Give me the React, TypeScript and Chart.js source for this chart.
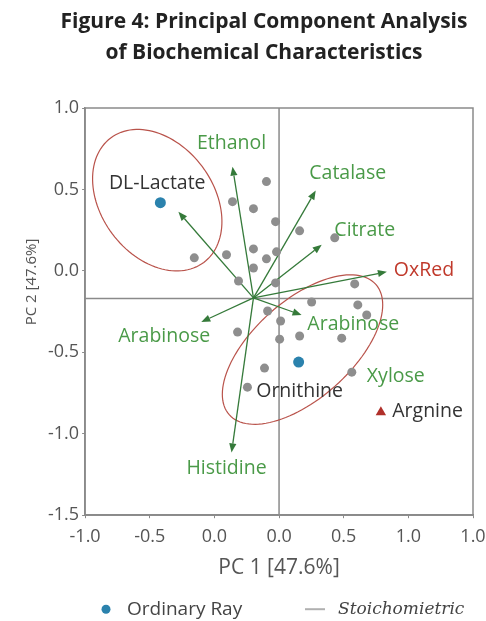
import React, { useEffect, useRef } from 'react';
import { Chart, registerables } from 'chart.js';

Chart.register(...registerables);

// ---------- text ----------
const TITLE_LINES = ['Figure 4: Principal Component Analysis', 'of Biochemical Characteristics'];
const X_TITLE = 'PC 1 [47.6%]';
const Y_TITLE = 'PC 2 [47.6%]';
const LEGEND_POINT_LABEL = 'Ordinary Ray';
const LEGEND_LINE_LABEL = 'Stoichomietric';

// ---------- ticks ----------
const X_TICK_VALUES = [-1, -0.6667, -0.3333, 0, 0.3333, 0.6667, 1];
const X_TICK_LABELS = ['-1.0', '-0.5', '0.0', '0.0', '0.5', '1.0', '1.0'];
const Y_TICK_VALUES = [-1.5, -1.0, -0.5, 0.0, 0.5, 1.0];

// ---------- data ----------
const GREY_X = [-0.065, -0.240, -0.132, -0.018, 0.106, 0.287, -0.437, -0.271, -0.132, -0.065, -0.013, -0.132, -0.209, -0.018, 0.390, 0.168, 0.406, 0.452, -0.059, 0.008, 0.106, 0.323, 0.003, -0.214, -0.075, -0.163, 0.375];
const GREY_Y = [0.548, 0.425, 0.382, 0.302, 0.246, 0.203, 0.080, 0.099, 0.135, 0.074, 0.117, 0.018, -0.062, -0.074, -0.080, -0.191, -0.209, -0.271, -0.246, -0.308, -0.400, -0.413, -0.419, -0.376, -0.597, -0.714, -0.622];

const BLUE_X = [-0.612, 0.101];
const BLUE_Y = [0.419, -0.560];

const TRI_X = [0.525];
const TRI_Y = [-0.868];

// loading vectors
const ARROW_ORIGIN = { x: -0.132, y: -0.166 };
const ARROW_X = [-0.240, -0.519, 0.189, 0.220, 0.556, -0.401, 0.116, -0.245];
const ARROW_Y = [0.640, 0.363, 0.493, 0.160, -0.006, -0.314, -0.271, -1.115];

// annotation labels
const LABEL_TEXTS = ['Ethanol', 'DL-Lactate', 'Catalase', 'Citrate', 'OxRed', 'Arabinose', 'Arabinose', 'Xylose', 'Ornithine', 'Histidine', 'Argnine'];
const LABEL_X = [-0.245, -0.628, 0.354, 0.442, 0.747, -0.592, 0.383, 0.602, 0.106, -0.271, 0.766];
const LABEL_Y = [0.782, 0.536, 0.597, 0.246, 0.000, -0.400, -0.326, -0.647, -0.739, -1.213, -0.862];
const LABEL_KIND = ['var', 'sample', 'var', 'var', 'red', 'var', 'var', 'var', 'sample', 'var', 'sample'];

// reference cross lines
const REF_X = 0;
const REF_Y = -0.17;

// confidence ellipses: centre + two conjugate semi-axis vectors (data units)
const ELLIPSE_CX = [-0.628, 0.121];
const ELLIPSE_CY = [0.434, -0.483];
const ELLIPSE_UX = [0.240, 0.378];
const ELLIPSE_UY = [-0.382, 0.400];
const ELLIPSE_VX = [-0.2315, 0.1675];
const ELLIPSE_VY = [-0.207, -0.2248];

// ---------- styles ----------
const SANS = "'Open Sans', 'Noto Sans', sans-serif";
const AXIS_GREY = '#8a8a8a';
const TEXT_GREY = '#555555';
const GREEN_TEXT = '#4a9a48';
const GREEN_ARROW = '#357a3a';
const RED_TEXT = '#c0392b';
const ELLIPSE_COLOR = '#b9534b';
const BLUE = '#2b82ad';
const GREY_POINT = '#8e8e8e';
const TRI_COLOR = '#b0302a';

const decorPlugin = {
  id: 'pcaDecor',
  beforeDatasetsDraw(chart: any) {
    const { ctx, chartArea, scales } = chart;
    const xs = scales.x;
    const ys = scales.y;
    const px = (v: number) => xs.getPixelForValue(v);
    const py = (v: number) => ys.getPixelForValue(v);
    ctx.save();

    // plot frame
    ctx.strokeStyle = AXIS_GREY;
    ctx.lineWidth = 1.5;
    ctx.strokeRect(chartArea.left, chartArea.top, chartArea.right - chartArea.left, chartArea.bottom - chartArea.top);

    // reference lines
    ctx.beginPath();
    ctx.moveTo(px(REF_X), chartArea.top);
    ctx.lineTo(px(REF_X), chartArea.bottom);
    ctx.moveTo(chartArea.left, py(REF_Y));
    ctx.lineTo(chartArea.right, py(REF_Y));
    ctx.stroke();

    // ellipses
    ctx.strokeStyle = ELLIPSE_COLOR;
    ctx.lineWidth = 1.2;
    for (let e = 0; e < ELLIPSE_CX.length; e++) {
      ctx.beginPath();
      const steps = 120;
      for (let i = 0; i <= steps; i++) {
        const t = (i / steps) * Math.PI * 2;
        const c = Math.cos(t);
        const s = Math.sin(t);
        const X = px(ELLIPSE_CX[e] + ELLIPSE_UX[e] * c + ELLIPSE_VX[e] * s);
        const Y = py(ELLIPSE_CY[e] + ELLIPSE_UY[e] * c + ELLIPSE_VY[e] * s);
        if (i === 0) ctx.moveTo(X, Y);
        else ctx.lineTo(X, Y);
      }
      ctx.closePath();
      ctx.stroke();
    }

    // arrows
    const ox = px(ARROW_ORIGIN.x);
    const oy = py(ARROW_ORIGIN.y);
    ctx.strokeStyle = GREEN_ARROW;
    ctx.fillStyle = GREEN_ARROW;
    ctx.lineWidth = 1.3;
    for (let i = 0; i < ARROW_X.length; i++) {
      const tx = px(ARROW_X[i]);
      const ty = py(ARROW_Y[i]);
      const ang = Math.atan2(ty - oy, tx - ox);
      const head = 9;
      const half = 3.6;
      const bx = tx - head * Math.cos(ang);
      const by = ty - head * Math.sin(ang);
      ctx.beginPath();
      ctx.moveTo(ox, oy);
      ctx.lineTo(bx, by);
      ctx.stroke();
      ctx.beginPath();
      ctx.moveTo(tx, ty);
      ctx.lineTo(bx + half * Math.sin(ang), by - half * Math.cos(ang));
      ctx.lineTo(bx - half * Math.sin(ang), by + half * Math.cos(ang));
      ctx.closePath();
      ctx.fill();
    }

    // labels
    ctx.font = `19.5px ${SANS}`;
    ctx.textAlign = 'center';
    ctx.textBaseline = 'middle';
    for (let i = 0; i < LABEL_TEXTS.length; i++) {
      const kind = LABEL_KIND[i];
      ctx.fillStyle = kind === 'var' ? GREEN_TEXT : kind === 'red' ? RED_TEXT : '#333333';
      ctx.fillText(LABEL_TEXTS[i], px(LABEL_X[i]), py(LABEL_Y[i]));
    }
    ctx.restore();
  },
  afterDraw(chart: any) {
    const { ctx, width, chartArea } = chart;
    ctx.save();
    // title
    ctx.fillStyle = '#222222';
    ctx.font = "bold 21px 'Open Sans', 'Noto Sans', sans-serif";
    ctx.textAlign = 'center';
    ctx.textBaseline = 'middle';
    const tx = width / 2 + 21;
    ctx.fillText(TITLE_LINES[0], tx, 22);
    ctx.fillText(TITLE_LINES[1], tx, 53);

    // y-axis title
    ctx.save();
    ctx.translate(32, 282);
    ctx.rotate(-Math.PI / 2);
    ctx.fillStyle = TEXT_GREY;
    ctx.font = `15px ${SANS}`;
    ctx.fillText(Y_TITLE, 0, 0);
    ctx.restore();

    // legend
    const ly = chartArea.bottom + 94;
    ctx.fillStyle = BLUE;
    ctx.beginPath();
    ctx.arc(106, ly, 4.5, 0, Math.PI * 2);
    ctx.fill();
    ctx.fillStyle = '#444444';
    ctx.font = `19px ${SANS}`;
    ctx.textAlign = 'left';
    ctx.fillText(LEGEND_POINT_LABEL, 127, ly);
    ctx.strokeStyle = '#b0b0b0';
    ctx.lineWidth = 2;
    ctx.beginPath();
    ctx.moveTo(305, ly);
    ctx.lineTo(325, ly);
    ctx.stroke();
    ctx.font = "italic 17px 'DejaVu Serif', 'Liberation Serif', serif";
    ctx.fillText(LEGEND_LINE_LABEL, 338, ly);
    ctx.restore();
  },
};

export default function App() {
  const canvasRef = useRef<HTMLCanvasElement | null>(null);

  useEffect(() => {
    if (!canvasRef.current) return;
    const chart = new Chart(canvasRef.current, {
      type: 'scatter',
      data: {
        datasets: [
          {
            label: 'Samples',
            data: GREY_X.map((x, i) => ({ x, y: GREY_Y[i] })),
            backgroundColor: GREY_POINT,
            borderWidth: 0,
            pointRadius: 4.5,
          },
          {
            label: LEGEND_POINT_LABEL,
            data: BLUE_X.map((x, i) => ({ x, y: BLUE_Y[i] })),
            backgroundColor: BLUE,
            borderWidth: 0,
            pointRadius: 5.5,
          },
          {
            label: 'Argnine',
            data: TRI_X.map((x, i) => ({ x, y: TRI_Y[i] })),
            backgroundColor: TRI_COLOR,
            borderWidth: 0,
            pointStyle: 'triangle',
            pointRadius: 6,
          },
        ],
      },
      options: {
        animation: false,
        responsive: true,
        maintainAspectRatio: false,
        layout: { padding: { top: 108, left: 45, right: 0, bottom: 40 } },
        plugins: {
          legend: { display: false },
          tooltip: { enabled: false },
          title: { display: false },
        },
        scales: {
          x: {
            type: 'linear',
            min: -1,
            max: 1,
            afterBuildTicks: (scale: any) => {
              scale.ticks = X_TICK_VALUES.map((v) => ({ value: v }));
            },
            afterFit: (scale: any) => {
              scale.paddingRight = 13;
            },
            ticks: {
              font: { family: SANS, size: 18 },
              color: TEXT_GREY,
              padding: 8,
              maxRotation: 0,
              autoSkip: false,
              callback: (_v: any, i: number) => X_TICK_LABELS[i],
            },
            grid: { drawOnChartArea: false, drawTicks: true, tickLength: 3, color: AXIS_GREY },
            border: { display: true, color: AXIS_GREY, width: 1.5 },
            title: {
              display: true,
              text: X_TITLE,
              font: { family: SANS, size: 21 },
              color: TEXT_GREY,
              padding: { top: 0, bottom: 0 },
            },
          },
          y: {
            type: 'linear',
            min: -1.5,
            max: 1.0,
            afterBuildTicks: (scale: any) => {
              scale.ticks = Y_TICK_VALUES.map((v) => ({ value: v }));
            },
            ticks: {
              font: { family: SANS, size: 18 },
              color: TEXT_GREY,
              padding: 3,
              autoSkip: false,
              callback: (v: any) => Number(v).toFixed(1),
            },
            grid: { drawOnChartArea: false, drawTicks: true, tickLength: 3, color: AXIS_GREY },
            border: { display: true, color: AXIS_GREY, width: 1.5 },
            title: { display: false },
          },
        },
      },
      plugins: [decorPlugin],
    });
    return () => chart.destroy();
  }, []);

  return (
    <div style={{ position: 'absolute', left: 0, top: 0, width: 486, height: 621, background: '#ffffff' }}>
      <canvas ref={canvasRef} />
    </div>
  );
}
